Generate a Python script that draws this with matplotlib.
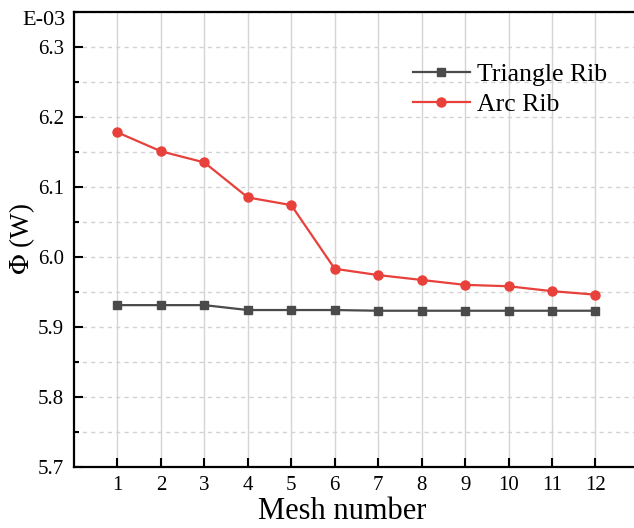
import numpy as np
import matplotlib.pyplot as plt
from matplotlib.ticker import MultipleLocator

plt.rcParams['font.family'] = ['Liberation Serif', 'DejaVu Serif']
plt.rcParams['mathtext.fontset'] = 'stix'

mesh = np.arange(1, 13)
triangle_rib = [5.931, 5.931, 5.931, 5.924, 5.924, 5.924,
                5.923, 5.923, 5.923, 5.923, 5.923, 5.923]
arc_rib = [6.178, 6.151, 6.135, 6.085, 6.074, 5.983,
           5.974, 5.967, 5.960, 5.958, 5.951, 5.946]

fig = plt.figure(figsize=(6.34, 5.28), dpi=100)
ax = fig.add_axes([0.1167, 0.1161, 0.891, 0.861])

ax.plot(mesh, triangle_rib, color='#4a4a4a', lw=1.6, marker='s', ms=6,
        label='Triangle Rib', zorder=3)
ax.plot(mesh, arc_rib, color='#e8403a', lw=1.6, marker='o', ms=6.5,
        label='Arc Rib', zorder=3)

ax.set_xlim(0, 13)
ax.set_ylim(5.7, 6.35)
ax.set_xticks(mesh)
ax.yaxis.set_minor_locator(MultipleLocator(0.05))
ax.set_yticks([5.7, 5.8, 5.9, 6.0, 6.1, 6.2, 6.3])
ax.set_yticklabels(['5.7', '5.8', '5.9', '6.0', '6.1', '6.2', '6.3'])

# vertical solid grid at each mesh, dashed horizontal grid every 0.05
ax.grid(axis='x', which='major', color='#d4d4d4', lw=1.0, ls='-')
for yv in np.arange(5.75, 6.351, 0.05):
    ax.axhline(yv, color='#d2d2d2', lw=1.0, ls=(0, (3, 3)), zorder=0)

ax.tick_params(axis='both', which='major', direction='in', length=6.5,
               width=1.5, labelsize=15, pad=7)
ax.tick_params(axis='y', which='minor', direction='in', length=3.5, width=1.5)
ax.tick_params(axis='x', which='minor', bottom=False)
for side in ['left', 'bottom', 'top', 'right']:
    ax.spines[side].set_linewidth(1.6)

ax.set_xlabel('Mesh number', fontsize=22, va='top')
ax.xaxis.set_label_coords(0.474, -0.066)
ax.set_ylabel(r'$\Phi$ (W)', fontsize=19.5, labelpad=1)
fig.text(0.035, 0.979, 'E-03', fontsize=16, ha='left', va='top')

ax.legend(loc='upper left', bbox_to_anchor=(0.582, 0.911), frameon=False,
          fontsize=18.5, handlelength=2.2, handletextpad=0.3,
          labelspacing=0.28, borderaxespad=0)

fig.savefig('out.png', dpi=100)
